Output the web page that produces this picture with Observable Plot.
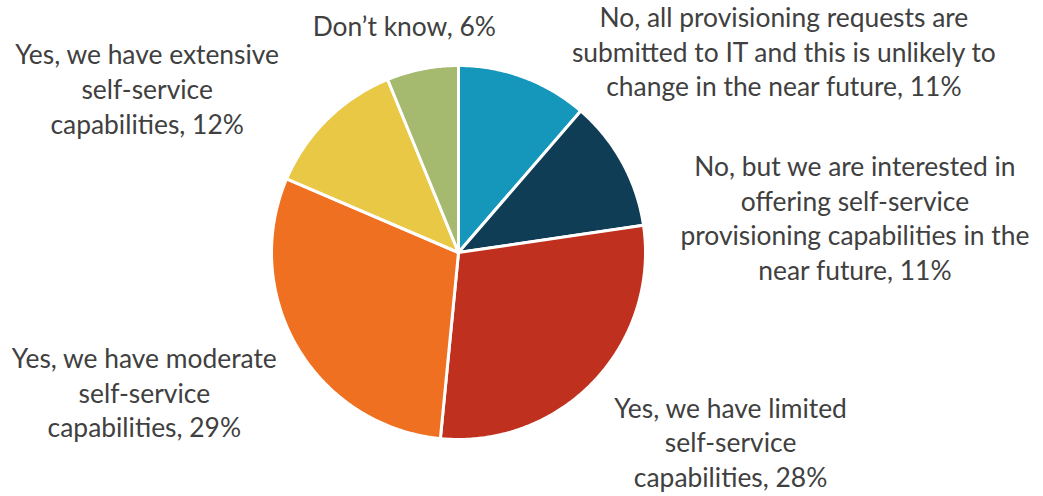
<!DOCTYPE html>
<html><head><meta charset="utf-8">
<script src="https://cdn.jsdelivr.net/npm/d3@7"></script>
<script src="https://cdn.jsdelivr.net/npm/@observablehq/plot@0.6"></script>
<style>body{margin:0;background:#fff}</style>
</head><body><div id="chart"></div>
<script>
const categories = [
  "No, all provisioning requests are\nsubmitted to IT and this is unlikely to\nchange in the near future",
  "No, but we are interested in\noffering self-service\nprovisioning capabilities in the\nnear future",
  "Yes, we have limited\nself-service\ncapabilities",
  "Yes, we have moderate\nself-service\ncapabilities",
  "Yes, we have extensive\nself-service\ncapabilities",
  "Don\u2019t know"
];
const values = [11, 11, 28, 29, 12, 6];
const colors = ["#1596BB", "#0E3D55", "#C0301F", "#F07022", "#E9C846", "#A5B96F"];
// label anchor positions, in units of the pie radius (layout only)
const labelX = [1.74, 2.12, 1.455, -1.68, -1.665, -0.29];
const labelY = [1.08, 0.19, -1.01, -0.745, 0.88, 1.215];

const pie = d3.pie().sort(null).value(d => d)(values);
const slices = [];
pie.forEach((a, i) => {
  const n = Math.max(2, Math.ceil((a.endAngle - a.startAngle) / 0.01));
  slices.push({i, x: 0, y: 0});
  for (let k = 0; k <= n; k++) {
    const t = a.startAngle + (a.endAngle - a.startAngle) * k / n;
    slices.push({i, x: Math.sin(t), y: Math.cos(t)});
  }
  slices.push({i, x: 0, y: 0});
});
const labels = categories.map((c, i) => ({text: `${c}, ${values[i]}%`, x: labelX[i], y: labelY[i]}));

const cx = 458, cy = 252, r = 187;
const chart = Plot.plot({
  width: 1043, height: 496,
  margin: 0,
  x: {type: "linear", domain: [-1, 1], range: [cx - r, cx + r], axis: null},
  y: {type: "linear", domain: [-1, 1], range: [cy + r, cy - r], axis: null},
  style: {fontFamily: "Lato, 'Noto Sans', sans-serif", background: "#fff"},
  marks: [
    ...colors.map((col, i) => Plot.line(slices.filter(d => d.i === i), {
      x: "x", y: "y", fill: col, stroke: "#fff", strokeWidth: 3, strokeLinejoin: "round", curve: "linear"
    })),
    Plot.text(labels, {
      x: "x", y: "y", text: "text", fill: "#404040", fontSize: 26.4, lineHeight: 1.31,
      textAnchor: "middle", lineAnchor: "middle"
    })
  ]
});
document.getElementById("chart").append(chart);
</script>
</body></html>
